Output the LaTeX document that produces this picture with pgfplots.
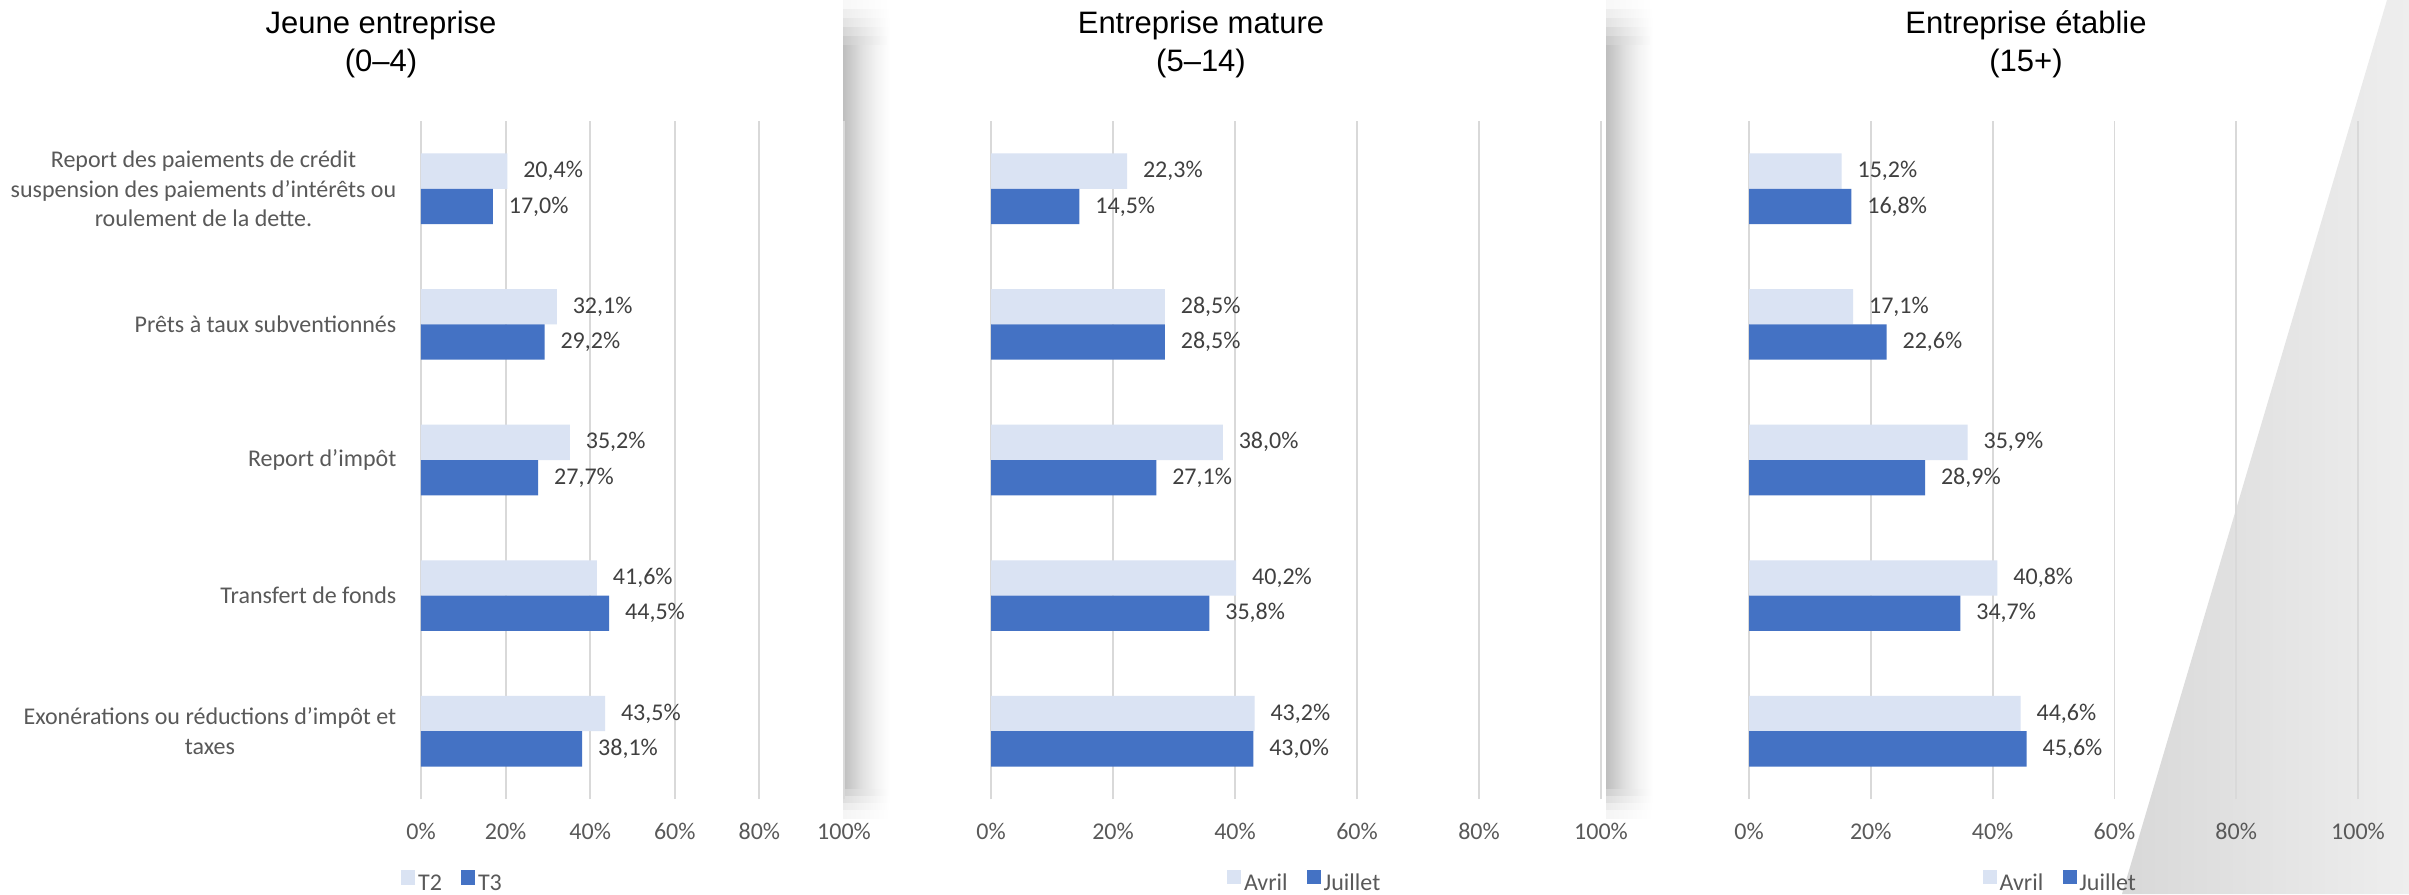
\documentclass[border=0pt]{standalone}
\usepackage{fontspec}
\setmainfont{Carlito}
\newfontfamily\titlefont{Liberation Sans}
\usepackage{pgfplots}
\pgfplotsset{compat=1.18}
\usepackage{pgfplotstable}

\definecolor{lightbar}{HTML}{DAE3F3}
\definecolor{darkbar}{HTML}{4472C4}
\definecolor{gridc}{HTML}{D9D9D9}
\definecolor{labc}{HTML}{404040}
\definecolor{tickc}{HTML}{595959}
\definecolor{sh0}{HTML}{BEBEBE}
\definecolor{sh1}{HTML}{CBCBCB}
\definecolor{sh2}{HTML}{E0E0E0}
\definecolor{sh3}{HTML}{F3F3F3}
\definecolor{trapL}{HTML}{D8D8D8}
\definecolor{trapR}{HTML}{EEEEEE}

\pgfdeclarehorizontalshading{shadowfade}{100bp}{color(0bp)=(sh0); color(25bp)=(sh0); color(33bp)=(sh1); color(45bp)=(sh2); color(60bp)=(sh3); color(75bp)=(white); color(100bp)=(white)}

\pgfplotstableread{
pos a b
4 20.4 17.0
3 32.1 29.2
2 35.2 27.7
1 41.6 44.5
0 43.5 38.1
}\dataA

\pgfplotstableread{
pos a b
4 22.3 14.5
3 28.5 28.5
2 38.0 27.1
1 40.2 35.8
0 43.2 43.0
}\dataB

\pgfplotstableread{
pos a b
4 15.2 16.8
3 17.1 22.6
2 35.9 28.9
1 40.8 34.7
0 44.6 45.6
}\dataC

\newcommand{\lblfont}{\fontsize{7.2pt}{8.85pt}\selectfont}

\pgfplotsset{
  panel/.style={
    scale only axis, anchor=south west, height=203.4pt,
    xbar, bar width=10.6pt,
    xmin=0, xmax=100, ymin=-0.5, ymax=4.5,
    xtick={0,20,...,100},
    xticklabel={\pgfmathprintnumber{\tick}\%},
    /pgf/number format/assume math mode=true,
    xmajorgrids, major grid style={gridc, line width=0.55pt},
    axis line style={draw=none},
    major tick length=0pt,
    tick label style={font=\lblfont, text=tickc},
    xticklabel style={anchor=center, yshift=-9.6pt},
    clip=false,
    point meta=x,
    nodes near coords={\pgfmathprintnumber[fixed,fixed zerofill,precision=1,use comma]{\pgfplotspointmeta}\%},
    nodes near coords align=horizontal,
    every node near coord/.append style={font=\lblfont, text=labc, inner sep=0pt, xshift=4.6pt},
    legend columns=2,
    legend image code/.code={\fill[##1] (0pt,0pt) rectangle (4.2pt,4.3pt);},
    legend style={draw=none, fill=none, font=\lblfont, text=tickc, anchor=center, inner sep=0pt,
      nodes={inner sep=0.8pt},
      /tikz/every even column/.append style={column sep=5pt}},
  },
}

\begin{document}
\begin{tikzpicture}
\fill[white] (0pt,0pt) rectangle (722.7pt,268.2pt);
% decorative gray shape at right
\shade[left color=trapL, right color=trapR] (716.1pt,268.2pt) -- (722.7pt,268.2pt) -- (722.7pt,0pt) -- (636.6pt,0pt) -- cycle;
% drop shadows of the first two panels
\foreach \x in {252.9,481.8} {
  \shade[shading=shadowfade] (\x pt,31.2pt) rectangle (\x pt+14.1pt,254.7pt);
  \foreach \y/\k in {254.7/21,257.4/16,260.1/11,262.8/7,265.5/3} {
    \shade[left color=black!\k, right color=white] (\x pt,\y pt) rectangle (\x pt+14.1pt,\y pt+2.75pt);
  }
  \foreach \y/\k in {29.1/19,27.0/13,24.9/8,22.8/4} {
    \shade[left color=black!\k, right color=white] (\x pt,\y pt) rectangle (\x pt+14.1pt,\y pt+2.15pt);
  }
}

% titles
\node[font=\titlefont\fontsize{9.3pt}{11.4pt}\selectfont, align=center] at (114.3pt,255pt) {Jeune entreprise\\(0–4)};
\node[font=\titlefont\fontsize{9.3pt}{11.4pt}\selectfont, align=center] at (360.3pt,255pt) {Entreprise mature\\(5–14)};
\node[font=\titlefont\fontsize{9.3pt}{11.4pt}\selectfont, align=center] at (607.8pt,255pt) {Entreprise établie\\(15+)};

\begin{axis}[panel, at={(126.3pt,28.5pt)}, width=126.9pt,
  ytick={0,1,2,3,4},
  yticklabels={{Exonérations ou réductions d’impôt et\\taxes},{Transfert de fonds},{Report d’impôt},{Prêts à taux subventionnés},{Report des paiements de crédit\\suspension des paiements d’intérêts ou\\roulement de la dette.}},
  yticklabel style={align=center, inner sep=0pt, xshift=-7.2pt},
  legend style={at={(0.0757,-0.1254)}}]
\addplot[fill=lightbar, draw=none, bar shift=5.3pt] table[x=a, y=pos] {\dataA};
\addlegendentry{T2}
\addplot[fill=darkbar, draw=none, bar shift=-5.3pt] table[x=b, y=pos] {\dataA};
\addlegendentry{T3}
\end{axis}

\begin{axis}[panel, at={(297.3pt,28.5pt)}, width=183.0pt, ytick=\empty,
  legend style={at={(0.515,-0.1254)}}]
\addplot[fill=lightbar, draw=none, bar shift=5.3pt] table[x=a, y=pos] {\dataB};
\addlegendentry{Avril}
\addplot[fill=darkbar, draw=none, bar shift=-5.3pt] table[x=b, y=pos] {\dataB};
\addlegendentry{Juillet}
\end{axis}

\begin{axis}[panel, at={(524.7pt,28.5pt)}, width=182.7pt, ytick=\empty,
  legend style={at={(0.512,-0.1254)}}]
\addplot[fill=lightbar, draw=none, bar shift=5.3pt] table[x=a, y=pos] {\dataC};
\addlegendentry{Avril}
\addplot[fill=darkbar, draw=none, bar shift=-5.3pt] table[x=b, y=pos] {\dataC};
\addlegendentry{Juillet}
\end{axis}

\pgfresetboundingbox
\useasboundingbox (0pt,0pt) rectangle (722.7pt,268.2pt);
\end{tikzpicture}
\end{document}
